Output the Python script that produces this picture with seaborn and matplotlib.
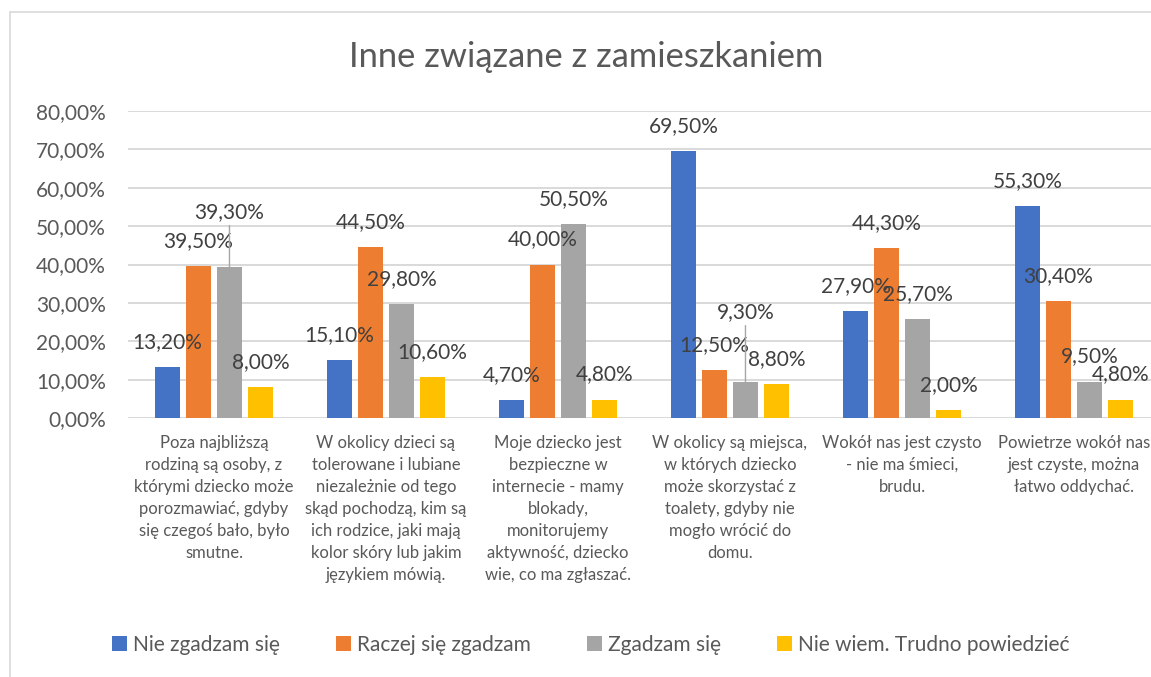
import matplotlib
matplotlib.use("Agg")
import matplotlib.pyplot as plt
from matplotlib.lines import Line2D
from matplotlib.ticker import FuncFormatter, MultipleLocator
import seaborn as sns
import pandas as pd

# ---------------- data ----------------
categories = [
    "Poza najbliższą\nrodziną są osoby, z\nktórymi dziecko może\nporozmawiać, gdyby\nsię czegoś bało, było\nsmutne.",
    "W okolicy dzieci są\ntolerowane i lubiane\nniezależnie od tego\nskąd pochodzą, kim są\nich rodzice, jaki mają\nkolor skóry lub jakim\njęzykiem mówią.",
    "Moje dziecko jest\nbezpieczne w\ninternecie - mamy\nblokady,\nmonitorujemy\naktywność, dziecko\nwie, co ma zgłaszać.",
    "W okolicy są miejsca,\nw których dziecko\nmoże skorzystać z\ntoalety, gdyby nie\nmogło wrócić do\ndomu.",
    "Wokół nas jest czysto\n- nie ma śmieci,\nbrudu.",
    "Powietrze wokół nas\njest czyste, można\nłatwo oddychać.",
]
series_names = ["Nie zgadzam się", "Raczej się zgadzam", "Zgadzam się",
                "Nie wiem. Trudno powiedzieć"]
nie_zgadzam = [13.2, 15.1, 4.7, 69.5, 27.9, 55.3]
raczej_zgadzam = [39.5, 44.5, 40.0, 12.5, 44.3, 30.4]
zgadzam = [39.3, 29.8, 50.5, 9.3, 25.7, 9.5]
nie_wiem = [8.0, 10.6, 4.8, 8.8, 2.0, 4.8]
title = "Inne związane z zamieszkaniem"

colors = ["#4472C4", "#ED7D31", "#A5A5A5", "#FFC000"]

rows = []
for name, vals in zip(series_names, [nie_zgadzam, raczej_zgadzam, zgadzam, nie_wiem]):
    for cat, v in zip(categories, vals):
        rows.append({"kategoria": cat, "seria": name, "wartosc": v})
df = pd.DataFrame(rows)

# ---------------- figure ----------------
sns.set_theme(style="white")
plt.rcParams["font.family"] = ["Lato", "DejaVu Sans"]

W, H = 1151, 677
fig = plt.figure(figsize=(W / 100, H / 100), dpi=100)
ax = fig.add_axes([128 / W, 1 - 418 / H, 1032 / W, 307 / H])

sns.barplot(data=df, x="kategoria", y="wartosc", hue="seria",
            order=categories, hue_order=series_names, palette=colors,
            saturation=1, width=0.72, gap=0.19, errorbar=None, ax=ax,
            linewidth=0)

ax.set_xlim(-0.5, 5.5)
ax.set_ylim(0, 80)
ax.yaxis.set_major_locator(MultipleLocator(10))
ax.yaxis.set_major_formatter(FuncFormatter(lambda v, p: f"{v:.2f}".replace(".", ",") + "%"))
ax.grid(axis="y", color="#D9D9D9", linewidth=1.4)
ax.set_axisbelow(True)
for s in ax.spines.values():
    s.set_visible(False)
ax.set_xlabel("")
ax.set_ylabel("")
ax.tick_params(axis="y", length=0, pad=16, labelsize=15, labelcolor="#595959")
ax.tick_params(axis="x", length=0, pad=12, labelsize=12, labelcolor="#595959")
for t in ax.get_xticklabels():
    t.set_linespacing(1.47)

# value labels
special = {(0, 2): 55, (3, 2): 70}
for si, cont in enumerate(ax.containers):
    for ci, bar in enumerate(cont):
        h = bar.get_height()
        x = bar.get_x() + bar.get_width() / 2
        txt = f"{h:.2f}".replace(".", ",") + "%"
        off = special.get((ci, si), 25)
        if (ci, si) in special:
            ax.annotate(txt, xy=(x, h), xytext=(0, off), textcoords="offset pixels",
                        ha="center", va="center", fontsize=15, color="#404040",
                        arrowprops=dict(arrowstyle="-", color="#A6A6A6", lw=1.0,
                                        shrinkA=0, shrinkB=0))
        else:
            ax.annotate(txt, xy=(x, h), xytext=(0, off), textcoords="offset pixels",
                        ha="center", va="center", fontsize=15, color="#404040")

# title
fig.text(586 / W, 1 - 57 / H, title, ha="center", va="center",
         fontsize=24.8, color="#595959")

# legend
handles, labels = ax.get_legend_handles_labels()
if ax.get_legend() is not None:
    ax.get_legend().remove()
fig.legend(handles, labels, loc="center", bbox_to_anchor=(591 / W, 1 - 645 / H),
           ncol=4, frameon=False, fontsize=15, labelcolor="#595959",
           handlelength=0.7, handleheight=0.7, handletextpad=0.3,
           columnspacing=2.7)

# chart border (left & top)
fig.add_artist(Line2D([10 / W, 10 / W], [0, 1 - 12 / H], transform=fig.transFigure,
                      color="#D9D9D9", linewidth=1.2))
fig.add_artist(Line2D([10 / W, 1], [1 - 12 / H, 1 - 12 / H], transform=fig.transFigure,
                      color="#D9D9D9", linewidth=1.2))

fig.savefig("out.png", dpi=100)
